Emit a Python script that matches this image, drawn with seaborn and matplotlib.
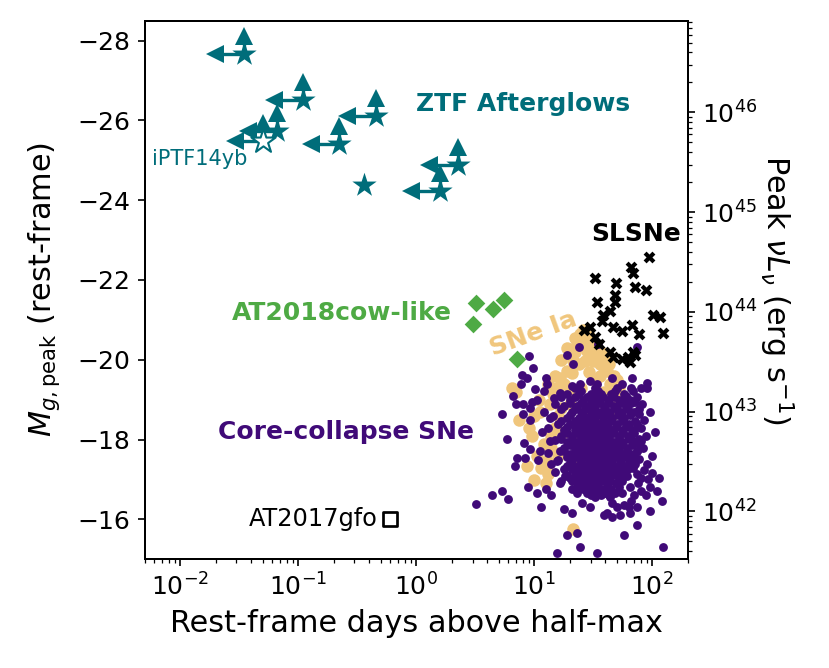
import matplotlib
matplotlib.use("Agg")
import matplotlib.pyplot as plt
import seaborn as sns
import pandas as pd
from matplotlib.ticker import NullLocator

# ---- data (rest-frame days above half-max, peak g mag) ----
ztf_days = [0.0347, 0.109, 0.456, 0.0658, 0.223, 2.25, 0.363, 1.59]
ztf_mag = [-27.67, -26.51, -26.12, -25.74, -25.41, -24.87, -24.37, -24.24]
ztf_is_limit = [True, True, True, True, True, True, False, True]

iptf_days = [0.0506]
iptf_mag = [-25.48]

cow_days = [3.21, 5.58, 4.50, 3.05, 7.19]
cow_mag = [-21.42, -21.50, -21.28, -20.90, -20.02]

gfo_days = [0.60]
gfo_mag = [-16.0]

slsn_points = [
    (94.5, -22.57), (32.7, -22.05), (65.7, -22.32), (68.4, -22.17), (49.3, -21.92),
    (71.5, -21.82), (88.6, -21.75), (48.4, -21.63), (33.9, -21.44), (48.4, -21.44),
    (43.9, -21.23), (38.5, -21.11), (37.3, -20.98), (102, -21.11), (116, -21.07),
    (29.7, -20.83), (26.4, -20.75), (46.8, -20.81), (55.2, -20.73), (67.0, -20.86),
    (77.3, -20.65), (123, -20.66), (32.7, -20.56), (35.6, -20.40), (43.9, -20.19),
    (46.8, -20.06), (55.2, -20.02), (62.7, -20.06), (71.5, -20.11), (64.8, -19.94),
    (69.2, -20.19),
]

ia_points = [
    (6.5, -19.3), (7.0, -19.2), (11.2, -18.68), (8.7, -17.35), (12.9, -17.3),
    (13.0, -17.15), (15.0, -18.3), (14.0, -17.8), (15.5, -19.3), (16.5, -19.55),
    (21.0, -19.68), (27.0, -19.98), (26.0, -20.5), (24.5, -20.65), (31.5, -19.98),
    (36.0, -19.9), (41.0, -19.73), (44.0, -19.4), (46.0, -19.15), (48.0, -19.05),
    (19.0, -19.73), (41.0, -20.05), (31.5, -20.15), (34.0, -20.3), (28.0, -20.23),
    (21.5, -19.98), (21.5, -15.75), (12.9, -17.47), (12.0, -17.9), (17.0, -18.8),
    (14.5, -19.15), (23.0, -20.4), (29.0, -20.6), (37.0, -20.2), (18.0, -19.4),
    (25.0, -19.3), (33.0, -19.5), (39.0, -19.2), (52.0, -19.3), (20.0, -18.9),
    (28.0, -18.7), (35.0, -18.5), (45.0, -18.6), (18.0, -18.2), (24.0, -18.0),
    (32.0, -17.8), (40.0, -17.9), (16.0, -17.6), (22.0, -17.4), (30.0, -17.2),
    (9.5, -18.1), (10.5, -17.6), (7.5, -18.5), (12.5, -16.9),
    (17.0, -20.0), (19.0, -20.3), (22.0, -20.55), (26.0, -20.75), (30.0, -20.45),
    (33.0, -20.0), (38.0, -19.85), (43.0, -19.9), (47.0, -19.6), (50.0, -19.5),
    (20.0, -19.2), (15.0, -19.6), (13.0, -19.4), (11.0, -19.0), (10.0, -18.6),
    (9.0, -18.3), (13.5, -18.9), (16.0, -18.6), (14.0, -18.1), (11.5, -17.3),
    (10.0, -17.0), (24.0, -19.9), (29.0, -19.7), (36.0, -19.6), (22.0, -20.2),
]

cc_outliers = [
    (3.2, -16.39), (4.36, -16.62), (5.3, -16.7), (6.04, -16.51), (5.3, -18.63),
    (5.85, -18.02), (35, -20.4), (24, -20.33), (74, -20.33), (19, -20.13),
    (21.5, -19.9), (9.0, -20.1), (9.8, -19.8), (7.9, -19.63), (8.7, -19.55),
    (12.5, -19.55), (12.9, -19.4), (7.7, -19.4), (10.2, -19.27), (12.0, -19.23),
    (6.6, -19.1), (7.0, -18.9), (8.0, -18.9), (9.6, -18.93), (10.5, -18.98),
    (14.7, -19.05), (16.5, -19.18), (20.8, -19.35), (24.5, -19.4), (29.5, -19.48),
    (34, -19.4), (46, -19.55), (56, -19.4), (68, -19.55), (80, -19.3),
    (90, -19.43), (90, -19.3), (69, -19.23), (57, -18.93), (71, -18.93),
    (77, -18.65), (80, -18.28), (80, -17.97), (74, -17.72), (78, -17.52),
    (100, -17.17), (115, -17.05), (92, -17.02), (95, -16.8), (110, -16.72),
    (89, -16.62), (120, -16.47), (95, -16.2), (74, -15.85), (53, -16.1),
    (63, -16.3), (65, -16.15), (74, -16.3), (58, -15.6), (123, -15.32),
    (34, -15.17), (24.5, -15.32), (15.5, -15.15), (19, -15.6), (23, -15.65),
    (41, -16.15), (39, -16.1), (46, -16.07), (21, -16.15), (18, -16.27),
    (11.5, -16.3), (10.5, -16.67), (8.9, -16.8), (12.5, -16.75), (14, -16.6),
    (7.2, -17.55), (6.9, -17.35), (8.3, -17.55), (10.8, -17.5), (9.2, -17.77),
    (11.2, -17.72), (8.2, -17.92), (11.6, -18.18), (9.2, -18.48), (9.2, -18.78),
    (8.0, -18.65), (12.0, -18.68), (13.6, -18.55), (13.6, -17.97), (13.0, -17.67),
    (16.5, -17.72), (15.5, -17.47), (18.3, -17.1), (16.5, -16.9), (21, -16.77),
    (25.5, -16.4), (29.5, -16.3), (23, -16.65), (32.5, -16.55), (26, -16.8),
    (31.5, -16.85), (46, -16.4), (44, -16.55), (56, -16.65), (65, -16.8),
    (61, -17.1), (69, -17.3), (74, -17.15), (80, -17.05), (80, -16.72),
    (15, -18.9), (16, -18.4), (15, -18.0), (16, -17.5), (15, -17.2),
    (17, -16.95), (14.5, -18.6), (13, -18.3), (14, -17.4), (82, -18.9),
    (85, -18.5), (88, -18.1), (84, -17.8), (90, -17.4), (86, -17.25),
    (76, -16.9), (70, -16.6), (66, -16.45), (58, -16.35), (50, -16.3),
    (60, -19.1), (66, -19.3), (75, -18.4), (68, -18.0), (72, -17.4),
    (78, -17.9), (95, -18.7), (100, -17.6), (105, -18.2),
]

# dense core of the core-collapse cloud, one row per magnitude
cc_core_rows = {
    -19.30: [22, 33, 50],
    -19.22: [25, 35, 48],
    -19.15: [19, 24, 30, 37, 45, 58],
    -19.07: [17, 22, 28, 33, 38, 47, 60, 75],
    -19.00: [20, 26, 31, 35, 42, 52, 65],
    -18.92: [20, 25, 30, 36, 43, 54, 66],
    -18.85: [18, 23, 28, 33, 39, 47, 60],
    -18.77: [17, 22, 27, 32, 40, 50, 62, 78],
    -18.70: [21, 25, 30, 36, 44, 55, 70],
    -18.62: [20, 26, 30, 34, 41, 51, 65],
    -18.55: [19, 24, 28, 32, 38, 46, 58],
    -18.47: [17, 22, 25, 29, 33, 38, 45, 56, 72],
    -18.40: [20, 23, 27, 31, 35, 41, 50, 63],
    -18.32: [19, 24, 28, 32, 37, 42, 49, 60, 75],
    -18.25: [18, 22, 26, 30, 34, 39, 45, 55, 68],
    -18.17: [19, 23, 27, 31, 35, 40, 47, 57, 70],
    -18.10: [17, 21, 25, 29, 33, 37, 43, 52, 62],
    -18.02: [17, 21, 25, 29, 33, 37, 43, 52, 64, 78],
    -17.95: [19, 23, 27, 31, 35, 40, 47, 57, 72],
    -17.87: [20, 24, 27, 31, 35, 41, 48, 56, 68],
    -17.80: [18, 22, 26, 29, 33, 38, 44, 51, 61],
    -17.72: [18, 22, 26, 30, 34, 38, 45, 52, 61, 74],
    -17.65: [20, 24, 28, 32, 36, 41, 48, 56, 66],
    -17.57: [19, 23, 27, 32, 37, 42, 49, 58, 70],
    -17.50: [21, 25, 30, 34, 39, 45, 53, 64],
    -17.42: [20, 25, 29, 33, 39, 46, 54, 65],
    -17.35: [19, 23, 27, 31, 36, 42, 50, 59],
    -17.27: [18, 21, 24, 28, 33, 38, 44, 51, 62],
    -17.20: [22, 26, 30, 35, 40, 47, 55],
    -17.12: [19, 23, 27, 31, 36, 42, 49, 58],
    -17.05: [20, 24, 29, 33, 38, 44, 52],
    -16.97: [21, 26, 31, 37, 44, 55],
    -16.90: [23, 28, 34, 41, 49],
    -16.82: [24, 29, 35, 42, 52],
    -16.75: [26, 32, 38, 45],
    -16.67: [28, 34, 40, 48],
    -16.60: [30, 37, 43],
}

# ---- style ----
TEAL = "#006d7a"
GREEN = "#4eaa44"
TAN = "#f0c67c"
PURPLE = "#400a78"
LUM_ZP = 35.52  # log10(nu L_nu) at M = 0

sns.set_style("ticks", {"axes.edgecolor": "black", "xtick.color": "black",
                        "ytick.color": "black", "text.color": "black",
                        "axes.labelcolor": "black"})
plt.rcParams["font.family"] = ["DejaVu Sans"]
plt.rcParams["xtick.labelsize"] = 12
plt.rcParams["ytick.labelsize"] = 12
plt.rcParams["axes.labelsize"] = 14.5

cc_points = cc_outliers + [(t, m) for m, ts in cc_core_rows.items() for t in ts]
ia = pd.DataFrame(ia_points, columns=["days", "mag"])
cc = pd.DataFrame(cc_points, columns=["days", "mag"])
slsn = pd.DataFrame(slsn_points, columns=["days", "mag"])
ztf = pd.DataFrame({"days": ztf_days, "mag": ztf_mag, "limit": ztf_is_limit})

fig = plt.figure(figsize=(829 / 150, 668 / 150), dpi=150)
ax = fig.add_axes([0.1745, 0.1627, 0.8296 - 0.1745, 0.9692 - 0.1627])

sns.scatterplot(data=ia, x="days", y="mag", color=TAN, s=36, linewidth=0, ax=ax, zorder=2)
sns.scatterplot(data=cc, x="days", y="mag", color=PURPLE, s=18, linewidth=0, ax=ax, zorder=3)
sns.scatterplot(data=slsn, x="days", y="mag", color="black", marker="X", s=32,
                linewidth=0, ax=ax, zorder=4)
sns.scatterplot(x=cow_days, y=cow_mag, color=GREEN, marker="D", s=36, linewidth=0,
                ax=ax, zorder=4)
sns.scatterplot(x=gfo_days, y=gfo_mag, marker="s", s=44, facecolor="white",
                edgecolor="black", linewidth=1.3, ax=ax, zorder=4)

# limit arrows: duration is an upper limit, peak brightness a lower limit
lim = ztf[ztf["limit"]]
arrow_days = list(lim["days"]) + iptf_days
arrow_mag = list(lim["mag"]) + iptf_mag
for t, m in zip(arrow_days, arrow_mag):
    ax.plot([t, t / 1.75], [m, m], color=TEAL, lw=1.6, zorder=5)
    ax.plot([t, t], [m, m - 0.45], color=TEAL, lw=1.6, zorder=5)
    ax.plot(t / 1.75, m, marker="<", ms=8.5, color=TEAL, mec="none", zorder=5)
    ax.plot(t, m - 0.45, marker="^", ms=8.5, color=TEAL, mec="none", zorder=5)

sns.scatterplot(data=ztf, x="days", y="mag", color=TEAL, marker="*", s=150,
                linewidth=0, ax=ax, zorder=6)
sns.scatterplot(x=iptf_days, y=iptf_mag, marker="*", s=150, facecolor="white",
                edgecolor=TEAL, linewidth=1.0, ax=ax, zorder=6)

# labels
ax.text(1.0, -26.4, "ZTF Afterglows", color=TEAL, fontsize=12, fontweight="bold",
        ha="left", va="center")
ax.text(0.00577, -25.04, "iPTF14yb", color=TEAL, fontsize=10, ha="left", va="center")
ax.text(30.3, -23.16, "SLSNe", color="black", fontsize=12, fontweight="bold",
        ha="left", va="center")
ax.text(0.0275, -21.18, "AT2018cow-like", color=GREEN, fontsize=12, fontweight="bold",
        ha="left", va="center")
ax.text(9.8, -20.66, "SNe Ia", color=TAN, fontsize=12, fontweight="bold",
        ha="center", va="center", rotation=20)
ax.text(0.0209, -18.2, "Core-collapse SNe", color=PURPLE, fontsize=12,
        fontweight="bold", ha="left", va="center")
ax.text(0.474, -16.0, "AT2017gfo", color="black", fontsize=11.5, ha="right", va="center")

ax.set_xscale("log")
ax.set_xlim(5e-3, 200)
ax.set_ylim(-15, -28.5)
ax.yaxis.set_minor_locator(NullLocator())
ax.set_xlabel("Rest-frame days above half-max")
ax.set_ylabel(r"$M_{g,\mathrm{peak}}$ (rest-frame)", labelpad=7)

ax2 = ax.twinx()
ax2.set_yscale("log")
ax2.set_ylim(10 ** (LUM_ZP + 0.4 * 15), 10 ** (LUM_ZP + 0.4 * 28.5))
ax2.set_ylabel(r"Peak $\nu L_\nu$ (erg s$^{-1}$)", rotation=270, labelpad=18)

for a in (ax, ax2):
    for sp in a.spines.values():
        sp.set_visible(True)
        sp.set_color("black")
        sp.set_linewidth(0.9)

fig.savefig("out.png", dpi=150, facecolor="white")
